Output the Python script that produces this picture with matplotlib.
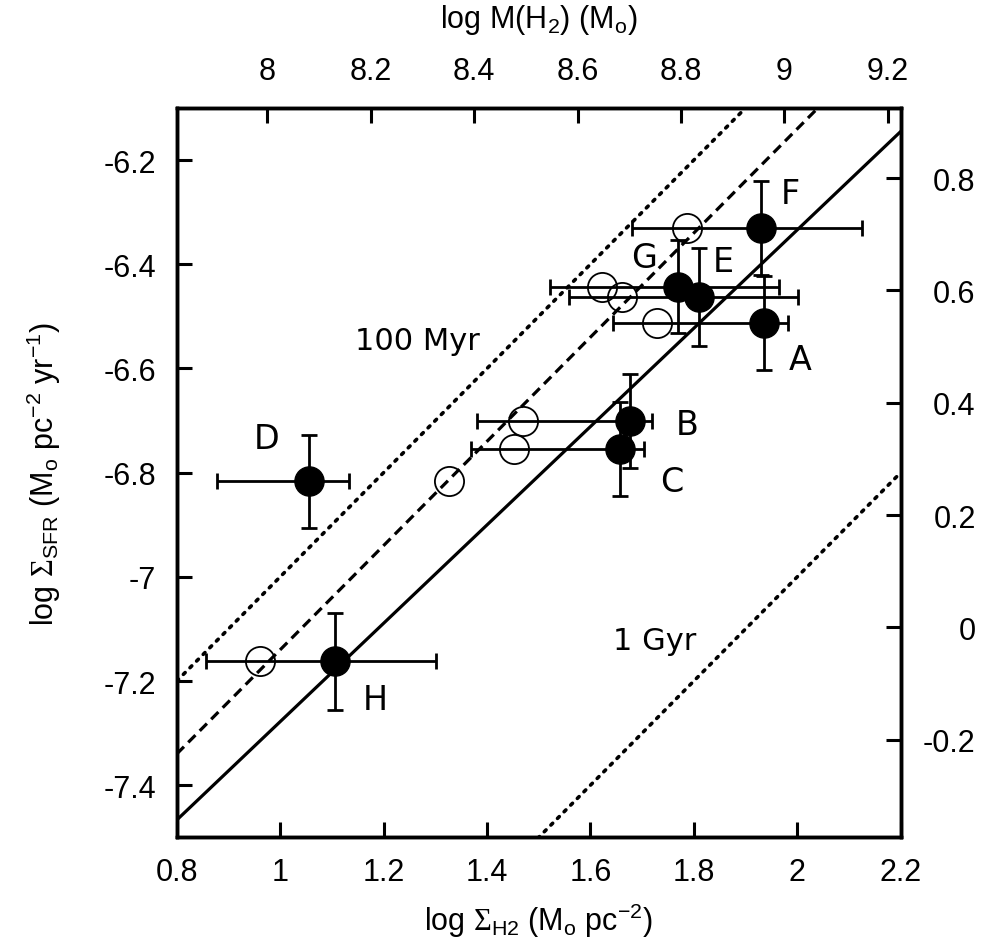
import matplotlib
matplotlib.use("Agg")
import matplotlib.pyplot as plt
import numpy as np

plt.rcParams['font.family'] = ['Liberation Sans', 'DejaVu Sans']
plt.rcParams['mathtext.fontset'] = 'custom'
plt.rcParams['mathtext.rm'] = 'Liberation Sans'
plt.rcParams['mathtext.it'] = 'Liberation Sans:italic'
plt.rcParams['mathtext.sf'] = 'Liberation Serif'

# ---- data ----
labels = ['A', 'B', 'C', 'D', 'E', 'F', 'G', 'H']
x_filled = [1.936, 1.676, 1.658, 1.055, 1.809, 1.930, 1.770, 1.106]
x_open = [1.729, 1.469, 1.452, 1.327, 1.661, 1.787, 1.622, 0.961]
y_sfr = [-6.513, -6.701, -6.755, -6.817, -6.462, -6.331, -6.443, -7.162]
x_low = [1.643, 1.380, 1.369, 0.877, 1.558, 1.681, 1.522, 0.857]
x_high = [1.982, 1.720, 1.704, 1.134, 2.001, 2.125, 1.964, 1.302]
y_err = [0.090, 0.090, 0.090, 0.090, 0.094, 0.090, 0.089, 0.093]
label_x = [2.006, 1.787, 1.758, 0.973, 1.857, 1.986, 1.703, 1.184]
label_y = [-6.582, -6.708, -6.817, -6.735, -6.394, -6.264, -6.388, -7.236]

# depletion-time lines: y = slope * x + intercept
tdep_names = ['100 Myr', '1 Gyr']
tdep_intercepts = [-8.0, -9.0]
tdep_text_x = [1.265, 1.725]
tdep_text_y = [-6.546, -7.122]
dashed_intercept = -8.14
fit_slope = 0.944
fit_intercept = -8.222

xlim_bottom = (0.8, 2.2)
ylim_left = (-7.5, -6.1)
xlim_top = (7.825, 9.225)
ylim_right = (-0.374, 0.925)
xticks_bottom = [0.8, 1.0, 1.2, 1.4, 1.6, 1.8, 2.0, 2.2]
xticklabels_bottom = ['0.8', '1', '1.2', '1.4', '1.6', '1.8', '2', '2.2']
yticks_left = [-7.4, -7.2, -7.0, -6.8, -6.6, -6.4, -6.2]
yticklabels_left = ['-7.4', '-7.2', '-7', '-6.8', '-6.6', '-6.4', '-6.2']
xticks_top = [8.0, 8.2, 8.4, 8.6, 8.8, 9.0, 9.2]
xticklabels_top = ['8', '8.2', '8.4', '8.6', '8.8', '9', '9.2']
yticks_right = [-0.2, 0.0, 0.2, 0.4, 0.6, 0.8]
yticklabels_right = ['-0.2', '0', '0.2', '0.4', '0.6', '0.8']

fig = plt.figure(figsize=(9.82, 9.45), dpi=100)
ax = fig.add_axes([0.180, 0.1129, 0.7372, 0.7718])

xs = np.array(xlim_bottom)
for c in tdep_intercepts:
    ax.plot(xs, xs + c, color='black', lw=2.6, linestyle=(0, (0.7, 1.9)),
            dash_capstyle='round', solid_capstyle='round')
ax.plot(xs, xs + dashed_intercept, color='black', lw=2.3, linestyle=(0, (3.2, 1.9)))
ax.plot(xs, fit_slope * xs + fit_intercept, color='black', lw=2.3)

xf = np.array(x_filled)
xerr = np.vstack([xf - np.array(x_low), np.array(x_high) - xf])
ax.errorbar(xf, y_sfr, xerr=xerr, yerr=y_err, fmt='o', color='black',
            ms=21, elinewidth=2.0, capsize=5.5, capthick=2.0, zorder=4)
ax.plot(x_open, y_sfr, 'o', ms=21, mfc='none', mec='black', mew=1.3, zorder=5)

for lab, lx, ly in zip(labels, label_x, label_y):
    ax.text(lx, ly, lab, fontsize=24, ha='center', va='center',
            family=['DejaVu Sans'])
for name, tx, ty in zip(tdep_names, tdep_text_x, tdep_text_y):
    ax.text(tx, ty, name, fontsize=22, ha='center', va='center',
            family=['DejaVu Sans'])

ax.set_xlim(*xlim_bottom)
ax.set_ylim(*ylim_left)
ax.set_xticks(xticks_bottom)
ax.set_xticklabels(xticklabels_bottom)
ax.set_yticks(yticks_left)
ax.set_yticklabels(yticklabels_left)
ax.tick_params(direction='in', length=11, width=2.2, labelsize=22, pad=14)
ax.tick_params(axis='y', pad=15)
for s in ax.spines.values():
    s.set_linewidth(2.4)

ax.set_xlabel(r'log $\mathsf{\Sigma}_{\rm H2}$ (M$_{\rm o}$ pc$^{-2}$)', fontsize=22, labelpad=10)
ax.set_ylabel(r'log $\mathsf{\Sigma}_{\rm SFR}$ (M$_{\rm o}$ pc$^{-2}$ yr$^{-1}$)', fontsize=22, labelpad=29)

axt = ax.twiny()
axt.set_xlim(*xlim_top)
axt.set_xticks(xticks_top)
axt.set_xticklabels(xticklabels_top)
axt.tick_params(direction='in', length=11, width=2.2, labelsize=22, pad=16)
axt.set_xlabel(r'log M(H$_2$) (M$_{\rm o}$)', fontsize=22, labelpad=21)

axr = ax.twinx()
axr.set_ylim(*ylim_right)
axr.set_yticks(yticks_right)
axr.set_yticklabels(yticklabels_right, ha='right')
axr.tick_params(direction='in', length=11, width=2.2, labelsize=22, pad=54)

for a in (axt, axr):
    for s in a.spines.values():
        s.set_linewidth(2.4)

fig.savefig('out.png', dpi=100)
